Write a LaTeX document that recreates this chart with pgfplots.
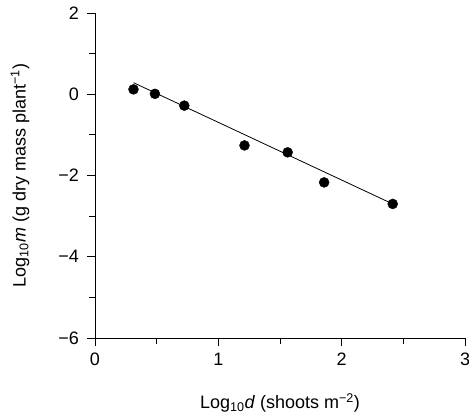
\documentclass[border=0pt]{standalone}
\usepackage{fontspec}
\setmainfont{Liberation Sans}
\usepackage{pgfplots}
\pgfplotsset{compat=1.18}

\begin{document}
\fontsize{18}{21}\selectfont
\begin{tikzpicture}
\begin{axis}[
  name=main,
  width=370pt, height=325pt, scale only axis,
  xmin=0, xmax=3, ymin=-6, ymax=2,
  axis x line*=bottom, axis y line*=left,
  axis line style={line width=0.9pt},
  xtick={0,1,2,3}, minor xtick={0.5,1.5,2.5},
  ytick={-6,-4,-2,0,2}, minor ytick={-5,-3,-1,1},
  yticklabels={−6,−4,−2,0,2},
  xticklabels={0,1,2,3},
  tick align=outside,
  major tick length=8pt, minor tick length=6pt,
  tick style={line width=0.9pt, black},
  every tick label/.append style={font=\fontsize{18}{21}\selectfont},
  xticklabel style={yshift=-1pt},
  yticklabel style={xshift=-2pt},
  xlabel={Log\textsubscript{10}\textit{d} (shoots m\textsuperscript{−2})},
  ylabel={Log\textsubscript{10}\textit{m} (g dry mass plant\textsuperscript{−1})},
  label style={font=\fontsize{18}{21}\selectfont},
  xlabel style={at={(axis description cs:0.5,0)}, anchor=center, yshift=-65pt},
  ylabel style={at={(axis description cs:0,0.5)}, anchor=center, xshift=0pt, yshift=75pt},
  clip=false,
]
% fitted regression line
\addplot[black, line width=0.8pt] coordinates {(0.312,0.285) (2.414,-2.70)};
% observed stands
\addplot[only marks, mark=*, mark size=5pt, black] coordinates {
  (0.312,0.12) (0.486,0.01) (0.724,-0.28) (1.212,-1.26)
  (1.562,-1.43) (1.858,-2.17) (2.414,-2.70)
};
\end{axis}
\pgfresetboundingbox
\path ([xshift=-95pt,yshift=-77pt]main.south west) rectangle ([xshift=4pt,yshift=13pt]main.north east);
\end{tikzpicture}
\end{document}
